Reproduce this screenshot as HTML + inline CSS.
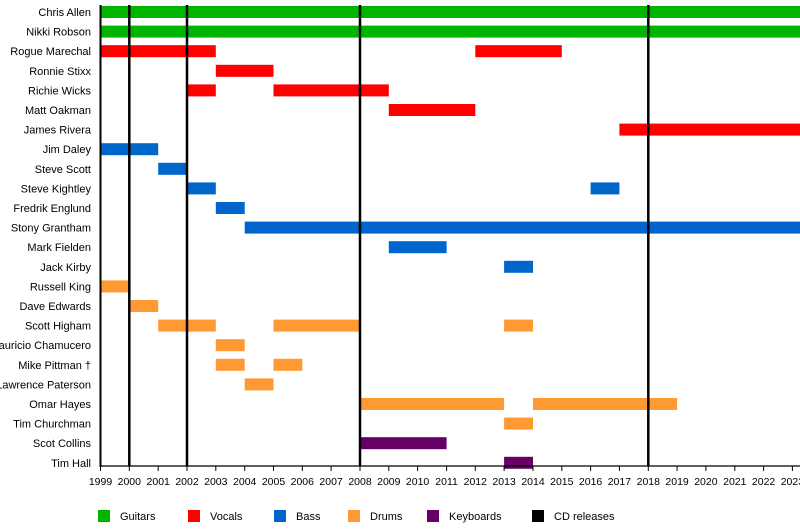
<!DOCTYPE html><html><head><style>body{margin:0;background:#fff}</style></head><body>
<svg width="800" height="526" xmlns="http://www.w3.org/2000/svg" font-family="Liberation Sans, sans-serif" font-size="11">
<rect width="800" height="526" fill="#fff"/>
<g text-anchor="end">
<g transform="translate(0,5)"><text x="91" y="11">Chris Allen</text><rect x="100.5" y="1" width="700" height="12" fill="#00b400"/></g>
<g transform="translate(0,24.6)"><text x="91" y="11">Nikki Robson</text><rect x="100.5" y="1" width="700" height="12" fill="#00b400"/></g>
<g transform="translate(0,44.2)"><text x="91" y="11">Rogue Marechal</text><rect x="100.5" y="1" width="115.3" height="12" fill="#f00"/><rect x="475.3" y="1" width="86.5" height="12" fill="#f00"/></g>
<g transform="translate(0,63.8)"><text x="91" y="11">Ronnie Stixx</text><rect x="215.8" y="1" width="57.7" height="12" fill="#f00"/></g>
<g transform="translate(0,83.4)"><text x="91" y="11">Richie Wicks</text><rect x="187" y="1" width="28.8" height="12" fill="#f00"/><rect x="273.5" y="1" width="115.3" height="12" fill="#f00"/></g>
<g transform="translate(0,103)"><text x="91" y="11">Matt Oakman</text><rect x="388.8" y="1" width="86.5" height="12" fill="#f00"/></g>
<g transform="translate(0,122.6)"><text x="91" y="11">James Rivera</text><rect x="619.4" y="1" width="181" height="12" fill="#f00"/></g>
<g transform="translate(0,142.2)"><text x="91" y="11">Jim Daley</text><rect x="100.5" y="1" width="57.7" height="12" fill="#0066cc"/></g>
<g transform="translate(0,161.8)"><text x="91" y="11">Steve Scott</text><rect x="158.2" y="1" width="28.8" height="12" fill="#0066cc"/></g>
<g transform="translate(0,181.4)"><text x="91" y="11">Steve Kightley</text><rect x="187" y="1" width="28.8" height="12" fill="#0066cc"/><rect x="590.6" y="1" width="28.8" height="12" fill="#0066cc"/></g>
<g transform="translate(0,201)"><text x="91" y="11">Fredrik Englund</text><rect x="215.8" y="1" width="28.9" height="12" fill="#0066cc"/></g>
<g transform="translate(0,220.6)"><text x="91" y="11">Stony Grantham</text><rect x="244.7" y="1" width="556" height="12" fill="#0066cc"/></g>
<g transform="translate(0,240.2)"><text x="91" y="11">Mark Fielden</text><rect x="388.8" y="1" width="57.8" height="12" fill="#0066cc"/></g>
<g transform="translate(0,259.8)"><text x="91" y="11">Jack Kirby</text><rect x="504.1" y="1" width="28.9" height="12" fill="#0066cc"/></g>
<g transform="translate(0,279.4)"><text x="91" y="11">Russell King</text><rect x="100.5" y="1" width="28.8" height="12" fill="#ff9933"/></g>
<g transform="translate(0,299)"><text x="91" y="11">Dave Edwards</text><rect x="129.3" y="1" width="28.9" height="12" fill="#ff9933"/></g>
<g transform="translate(0,318.6)"><text x="91" y="11">Scott Higham</text><rect x="158.2" y="1" width="57.6" height="12" fill="#ff9933"/><rect x="273.5" y="1" width="86.5" height="12" fill="#ff9933"/><rect x="504.1" y="1" width="28.9" height="12" fill="#ff9933"/></g>
<g transform="translate(0,338.2)"><text x="91" y="11">Mauricio Chamucero</text><rect x="215.8" y="1" width="28.9" height="12" fill="#ff9933"/></g>
<g transform="translate(0,357.8)"><text x="91" y="11">Mike Pittman †</text><rect x="215.8" y="1" width="28.9" height="12" fill="#ff9933"/><rect x="273.5" y="1" width="28.8" height="12" fill="#ff9933"/></g>
<g transform="translate(0,377.4)"><text x="91" y="11">Lawrence Paterson</text><rect x="244.7" y="1" width="28.8" height="12" fill="#ff9933"/></g>
<g transform="translate(0,397)"><text x="91" y="11">Omar Hayes</text><rect x="360" y="1" width="144.1" height="12" fill="#ff9933"/><rect x="533" y="1" width="144.1" height="12" fill="#ff9933"/></g>
<g transform="translate(0,416.6)"><text x="91" y="11">Tim Churchman</text><rect x="504.1" y="1" width="28.9" height="12" fill="#ff9933"/></g>
<g transform="translate(0,436.2)"><text x="91" y="11">Scot Collins</text><rect x="360" y="1" width="86.6" height="12" fill="#660066"/></g>
<g transform="translate(0,455.8)"><text x="91" y="11">Tim Hall</text><rect x="504.1" y="1" width="28.9" height="12" fill="#660066"/></g>
</g>
<g stroke="#000" stroke-width="2.5">
<line x1="129.3" y1="5" x2="129.3" y2="466"/><line x1="187" y1="5" x2="187" y2="466"/><line x1="360" y1="5" x2="360" y2="466"/><line x1="648.3" y1="5" x2="648.3" y2="466"/>
</g>
<line x1="100.5" y1="5" x2="100.5" y2="467" stroke="#000" stroke-width="2"/>
<line x1="100" y1="466" x2="800" y2="466" stroke="#000" stroke-width="1.2"/>
<g stroke="#000">
<line x1="100.5" y1="466" x2="100.5" y2="471"/><line x1="129.3" y1="466" x2="129.3" y2="471"/><line x1="158.2" y1="466" x2="158.2" y2="471"/><line x1="187" y1="466" x2="187" y2="471"/><line x1="215.8" y1="466" x2="215.8" y2="471"/><line x1="244.7" y1="466" x2="244.7" y2="471"/><line x1="273.5" y1="466" x2="273.5" y2="471"/><line x1="302.3" y1="466" x2="302.3" y2="471"/><line x1="331.1" y1="466" x2="331.1" y2="471"/><line x1="360" y1="466" x2="360" y2="471"/><line x1="388.8" y1="466" x2="388.8" y2="471"/><line x1="417.6" y1="466" x2="417.6" y2="471"/><line x1="446.6" y1="466" x2="446.6" y2="471"/><line x1="475.3" y1="466" x2="475.3" y2="471"/><line x1="504.1" y1="466" x2="504.1" y2="471"/><line x1="533" y1="466" x2="533" y2="471"/><line x1="561.8" y1="466" x2="561.8" y2="471"/><line x1="590.6" y1="466" x2="590.6" y2="471"/><line x1="619.4" y1="466" x2="619.4" y2="471"/><line x1="648.3" y1="466" x2="648.3" y2="471"/><line x1="677.1" y1="466" x2="677.1" y2="471"/><line x1="705.9" y1="466" x2="705.9" y2="471"/><line x1="734.8" y1="466" x2="734.8" y2="471"/><line x1="763.6" y1="466" x2="763.6" y2="471"/><line x1="792.4" y1="466" x2="792.4" y2="471"/>
</g>
<g text-anchor="middle" font-size="10.5">
<text x="100.5" y="485">1999</text><text x="129.3" y="485">2000</text><text x="158.2" y="485">2001</text><text x="187" y="485">2002</text><text x="215.8" y="485">2003</text><text x="244.7" y="485">2004</text><text x="273.5" y="485">2005</text><text x="302.3" y="485">2006</text><text x="331.1" y="485">2007</text><text x="360" y="485">2008</text><text x="388.8" y="485">2009</text><text x="417.6" y="485">2010</text><text x="446.6" y="485">2011</text><text x="475.3" y="485">2012</text><text x="504.1" y="485">2013</text><text x="533" y="485">2014</text><text x="561.8" y="485">2015</text><text x="590.6" y="485">2016</text><text x="619.4" y="485">2017</text><text x="648.3" y="485">2018</text><text x="677.1" y="485">2019</text><text x="705.9" y="485">2020</text><text x="734.8" y="485">2021</text><text x="763.6" y="485">2022</text><text x="792.4" y="485">2023</text>
</g>
<rect x="98" y="510" width="12" height="12" fill="#00b400"/><text x="120" y="520">Guitars</text>
<rect x="188" y="510" width="12" height="12" fill="#f00"/><text x="210" y="520">Vocals</text>
<rect x="274" y="510" width="12" height="12" fill="#0066cc"/><text x="296" y="520">Bass</text>
<rect x="348" y="510" width="12" height="12" fill="#ff9933"/><text x="370" y="520">Drums</text>
<rect x="427" y="510" width="12" height="12" fill="#660066"/><text x="449" y="520">Keyboards</text>
<rect x="532" y="510" width="12" height="12" fill="#000"/><text x="554" y="520">CD releases</text>
</svg></body></html>
